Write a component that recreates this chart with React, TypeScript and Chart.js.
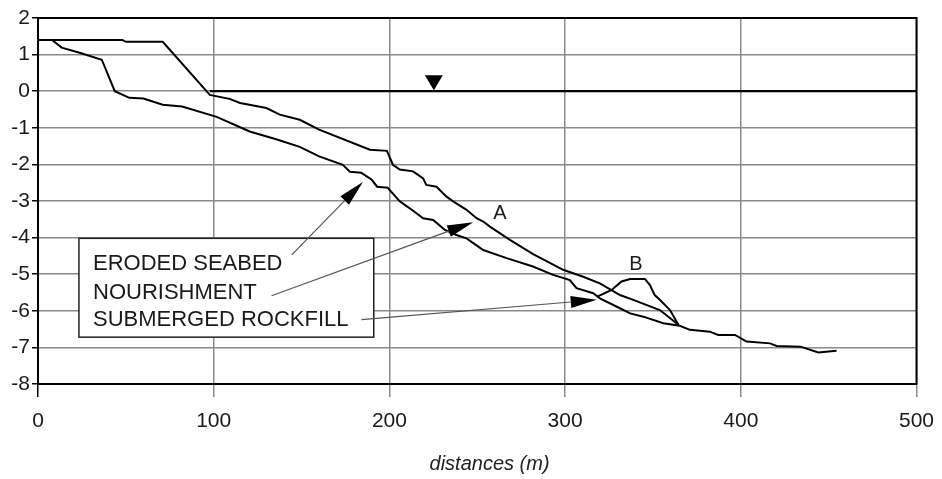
import React, { useEffect, useRef } from "react";
import { Chart, registerables } from "chart.js";
Chart.register(...registerables);

// ---- data (distance m, level m) ----
const erodedX = [0, 8, 13.5, 23.7, 36.3, 43.7, 52, 60, 71, 82, 101.7, 120.5, 136, 149, 160, 173.5, 177.5, 184, 190, 193, 199, 205.9, 211.6, 219.2, 224.9, 231.6, 238.2, 243.9, 253.4, 266.7, 281.7, 293.2, 302.7, 306.5, 316, 319.8, 331.2, 337, 344.5, 355.9, 365.3, 371, 382.4, 387.1, 396.7, 403.3, 416.6, 420.4, 434, 444.1, 454.5];
const erodedY = [1.4, 1.4, 1.19, 1.05, 0.86, 0, -0.18, -0.2, -0.37, -0.42, -0.7, -1.1, -1.32, -1.52, -1.78, -2.01, -2.2, -2.23, -2.42, -2.61, -2.64, -3.01, -3.2, -3.47, -3.52, -3.79, -3.93, -4.02, -4.34, -4.56, -4.79, -5.02, -5.16, -5.38, -5.52, -5.66, -5.93, -6.07, -6.16, -6.34, -6.41, -6.52, -6.57, -6.66, -6.66, -6.84, -6.89, -6.96, -6.98, -7.14, -7.09];

const nourishX = [0, 48, 50, 71, 97.8, 109, 115, 130, 137.6, 149, 160, 188.9, 198.6, 202, 205.9, 213.5, 219.2, 221, 226.8, 232.5, 236.3, 243.9, 249.6, 253.4, 257.2, 268.6, 278.1, 281.8, 298.9, 310.3, 319.8, 331.2, 338.8, 353.9, 364.5];
const nourishY = [1.4, 1.4, 1.35, 1.35, -0.1, -0.21, -0.32, -0.46, -0.64, -0.78, -1.05, -1.6, -1.63, -2.01, -2.14, -2.19, -2.38, -2.56, -2.61, -2.88, -3.01, -3.24, -3.47, -3.56, -3.7, -4.06, -4.34, -4.45, -4.88, -5.07, -5.25, -5.57, -5.7, -5.98, -6.38];

const rockfillX = [318, 326.5, 332.1, 337, 345.4, 348.2, 351, 353.9, 359.7, 364.5];
const rockfillY = [-5.62, -5.43, -5.2, -5.13, -5.13, -5.29, -5.57, -5.7, -5.98, -6.38];

const waterX = [97.8, 500];
const waterY = [0, 0];
const waterMarkX = 225.3;

const xTicks = [0, 100, 200, 300, 400, 500];
const yTicks = [2, 1, 0, -1, -2, -3, -4, -5, -6, -7, -8];
const xTitle = "distances (m)";

const legendLabels = ["ERODED SEABED", "NOURISHMENT", "SUBMERGED ROCKFILL"];
const legendBox = { x0: 23.3, x1: 191.1, y0: -4.02, y1: -6.72 };
const legendTextX = 31.3;
const legendTextY = [-4.71, -5.52, -6.24];
// arrows: [fromX, fromY, toX, toY]
const arrows = [
  [144.4, -4.47, 184.9, -2.48],
  [132.9, -5.59, 247.7, -3.58],
  [184.1, -6.24, 318, -5.7],
];
const pointLabels = [
  { text: "A", x: 262.9, y: -3.33 },
  { text: "B", x: 340.3, y: -4.74 },
];

const FONT = "'Liberation Sans', Arial, sans-serif";

const toPts = (xs: number[], ys: number[]) => xs.map((x, i) => ({ x, y: ys[i] }));

const annotPlugin = {
  id: "annot",
  afterDatasetsDraw(chart: any) {
    const { ctx, scales } = chart;
    const xs = scales.x, ys = scales.y;
    const px = (v: number) => xs.getPixelForValue(v);
    const py = (v: number) => ys.getPixelForValue(v);
    ctx.save();

    // frame (top & right)
    ctx.strokeStyle = "#000";
    ctx.lineWidth = 2;
    ctx.beginPath();
    ctx.moveTo(px(0), py(2));
    ctx.lineTo(px(500), py(2));
    ctx.lineTo(px(500), py(-8));
    ctx.stroke();

    // water level marker
    const wx = px(waterMarkX), wy = py(0) - 1;
    ctx.fillStyle = "#000";
    ctx.beginPath();
    ctx.moveTo(wx - 9, wy - 15);
    ctx.lineTo(wx + 9, wy - 15);
    ctx.lineTo(wx, wy);
    ctx.closePath();
    ctx.fill();

    // legend box
    const bx0 = px(legendBox.x0), bx1 = px(legendBox.x1);
    const by0 = py(legendBox.y0), by1 = py(legendBox.y1);
    ctx.fillStyle = "#fff";
    ctx.fillRect(bx0, by0, bx1 - bx0, by1 - by0);
    ctx.strokeStyle = "#222";
    ctx.lineWidth = 1.5;
    ctx.strokeRect(bx0, by0, bx1 - bx0, by1 - by0);
    ctx.fillStyle = "#1a1a1a";
    ctx.font = `22px ${FONT}`;
    ctx.textAlign = "left";
    ctx.textBaseline = "middle";
    legendLabels.forEach((t, i) => ctx.fillText(t, px(legendTextX), py(legendTextY[i])));

    // arrows
    arrows.forEach(([fx, fy, tx, ty]) => {
      const x1 = px(fx), y1 = py(fy), x2 = px(tx), y2 = py(ty);
      const ang = Math.atan2(y2 - y1, x2 - x1);
      const L = 26, W = 6;
      const bx = x2 - L * Math.cos(ang), by = y2 - L * Math.sin(ang);
      ctx.strokeStyle = "#555";
      ctx.lineWidth = 1.2;
      ctx.beginPath();
      ctx.moveTo(x1, y1);
      ctx.lineTo(bx, by);
      ctx.stroke();
      ctx.fillStyle = "#000";
      ctx.beginPath();
      ctx.moveTo(x2, y2);
      ctx.lineTo(bx + W * Math.sin(ang), by - W * Math.cos(ang));
      ctx.lineTo(bx - W * Math.sin(ang), by + W * Math.cos(ang));
      ctx.closePath();
      ctx.fill();
    });

    // A / B labels
    ctx.fillStyle = "#1a1a1a";
    ctx.font = `20px ${FONT}`;
    ctx.textAlign = "center";
    ctx.textBaseline = "middle";
    pointLabels.forEach((l) => ctx.fillText(l.text, px(l.x), py(l.y)));

    // x title
    ctx.font = `italic 20px ${FONT}`;
    ctx.fillStyle = "#222";
    ctx.fillText(xTitle, px(257), 464);
    ctx.restore();
  },
};

export default function App() {
  const ref = useRef<HTMLCanvasElement | null>(null);
  useEffect(() => {
    document.body.style.margin = "0";
    const lineDs = (label: string, data: any[], w = 2) => ({
      label,
      data,
      borderColor: "#000",
      borderWidth: w,
      pointRadius: 0,
      tension: 0,
      fill: false,
    });
    const chart = new Chart(ref.current as HTMLCanvasElement, {
      type: "line",
      data: {
        datasets: [
          lineDs("Eroded seabed", toPts(erodedX, erodedY)),
          lineDs("Nourishment", toPts(nourishX, nourishY)),
          lineDs("Submerged rockfill", toPts(rockfillX, rockfillY)),
          lineDs("Water level", toPts(waterX, waterY), 2.2),
        ],
      },
      options: {
        animation: false,
        responsive: true,
        maintainAspectRatio: false,
        layout: { padding: { top: 18, right: 25.5, left: 0, bottom: 0 } },
        plugins: { legend: { display: false }, tooltip: { enabled: false } },
        scales: {
          x: {
            type: "linear",
            min: 0,
            max: 500,
            afterFit: (s: any) => { s.height = 95; s.paddingLeft = 0; s.paddingRight = 0; },
            afterBuildTicks: (s: any) => { s.ticks = xTicks.map((v) => ({ value: v })); },
            ticks: {
              font: { family: FONT, size: 21 },
              color: "#1a1a1a",
              padding: 12,
              maxRotation: 0,
              autoSkip: false,
            },
            grid: {
              color: "#8a8a8a",
              lineWidth: 1.5,
              tickLength: 13,
              tickColor: (c: any) => (c.tick && c.tick.value === 0 ? "#000" : "#8a8a8a"),
            },
            border: { display: true, color: "#000", width: 2 },
          },
          y: {
            type: "linear",
            min: -8,
            max: 2,
            afterFit: (s: any) => { s.width = 38; s.paddingTop = 0; s.paddingBottom = 0; },
            afterBuildTicks: (s: any) => { s.ticks = yTicks.map((v) => ({ value: v })); },
            ticks: {
              font: { family: FONT, size: 21 },
              color: "#1a1a1a",
              padding: 2,
              autoSkip: false,
            },
            grid: {
              color: "#8a8a8a",
              lineWidth: 1.5,
              tickLength: 6,
              tickColor: "#000",
            },
            border: { display: true, color: "#000", width: 2 },
          },
        },
      },
      plugins: [annotPlugin],
    });
    return () => chart.destroy();
  }, []);
  return (
    <div style={{ position: "fixed", left: 0, top: 0, width: 942, height: 479, background: "#fff" }}>
      <canvas ref={ref} />
    </div>
  );
}
